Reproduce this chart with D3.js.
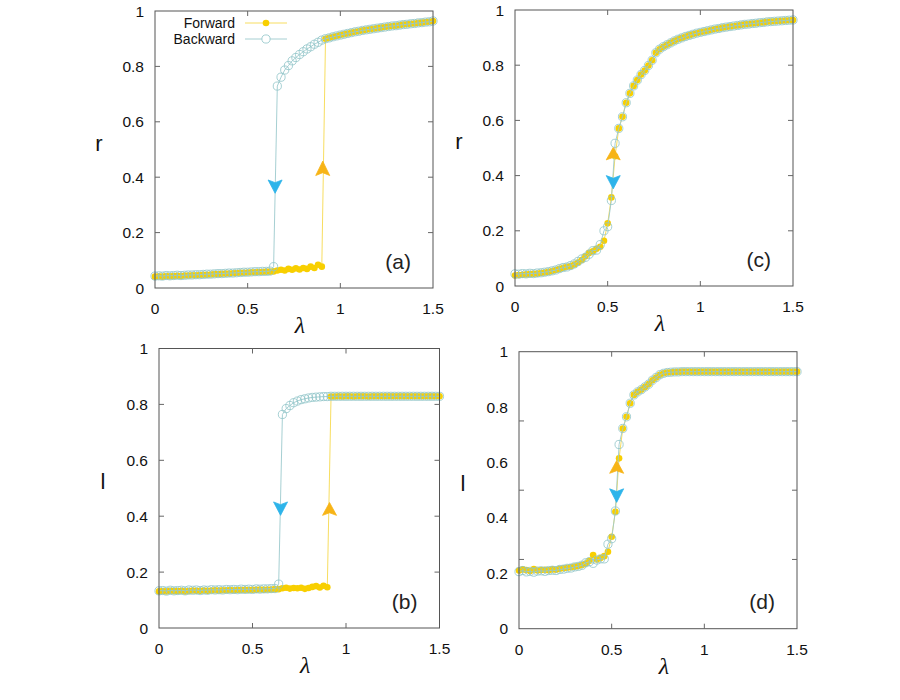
<!DOCTYPE html>
<html>
<head>
<meta charset="utf-8">
<script src="https://cdn.jsdelivr.net/npm/d3@7"></script>
<style>
html,body{margin:0;padding:0;background:#fff;}
svg{display:block;}
</style>
</head>
<body>
<svg id="chart" width="900" height="700"></svg>
<script>
// ---------------- DATA ----------------
const lambda = [0,0.02,0.04,0.06,0.08,0.10,0.12,0.14,0.16,0.18,0.20,0.22,0.24,0.26,0.28,0.30,0.32,0.34,0.36,0.38,
  0.40,0.42,0.44,0.46,0.48,0.50,0.52,0.54,0.56,0.58,0.60,0.62,0.64,0.66,0.68,0.70,0.72,0.74,0.76,0.78,
  0.80,0.82,0.84,0.86,0.88,0.90,0.92,0.94,0.96,0.98,1.00,1.02,1.04,1.06,1.08,1.10,1.12,1.14,1.16,1.18,
  1.20,1.22,1.24,1.26,1.28,1.30,1.32,1.34,1.36,1.38,1.40,1.42,1.44,1.46,1.48,1.50];

// panel (a): r, hysteresis
const rForwardA = [0.041,0.042,0.041,0.043,0.042,0.043,0.044,0.043,0.045,0.045,0.046,0.046,0.047,0.048,0.048,0.049,0.050,0.050,0.051,0.052,
  0.052,0.053,0.054,0.055,0.055,0.056,0.057,0.057,0.058,0.058,0.059,0.059,0.060,0.063,0.066,0.063,0.069,0.066,0.071,0.067,
  0.072,0.069,0.077,0.072,0.084,0.077,0.900,0.903,0.907,0.910,0.913,0.916,0.919,0.922,0.925,0.927,0.930,0.932,0.934,0.936,
  0.938,0.940,0.942,0.944,0.946,0.947,0.949,0.951,0.952,0.954,0.955,0.957,0.958,0.960,0.961,0.964];
const rBackwardA = [0.043,0.044,0.043,0.045,0.044,0.045,0.046,0.045,0.046,0.047,0.047,0.048,0.048,0.049,0.050,0.050,0.051,0.052,0.052,0.053,
  0.054,0.054,0.055,0.056,0.057,0.057,0.058,0.059,0.059,0.060,0.060,0.061,0.077,0.729,0.761,0.787,0.803,0.820,0.832,0.843,
  0.853,0.863,0.871,0.880,0.887,0.895,0.900,0.903,0.907,0.910,0.913,0.916,0.919,0.922,0.925,0.927,0.930,0.932,0.934,0.936,
  0.938,0.940,0.942,0.944,0.946,0.947,0.949,0.951,0.952,0.954,0.955,0.957,0.958,0.960,0.961,0.964];

// panel (b): l, hysteresis
const lForwardB = [0.131,0.132,0.131,0.133,0.132,0.132,0.133,0.131,0.132,0.134,0.133,0.133,0.134,0.133,0.134,0.135,0.134,0.135,0.135,0.136,
  0.135,0.136,0.136,0.137,0.136,0.137,0.137,0.138,0.137,0.138,0.138,0.139,0.139,0.142,0.144,0.141,0.143,0.142,0.144,0.140,
  0.143,0.147,0.150,0.145,0.151,0.146,0.828,0.828,0.829,0.828,0.829,0.829,0.828,0.829,0.829,0.829,0.828,0.829,0.829,0.829,
  0.829,0.829,0.829,0.829,0.829,0.829,0.829,0.829,0.829,0.829,0.829,0.829,0.829,0.829,0.829,0.829];
const lBackwardB = [0.133,0.134,0.132,0.135,0.133,0.134,0.135,0.133,0.136,0.135,0.136,0.134,0.136,0.135,0.137,0.136,0.137,0.136,0.138,0.137,
  0.138,0.137,0.139,0.138,0.139,0.138,0.140,0.139,0.140,0.140,0.141,0.141,0.157,0.764,0.785,0.796,0.806,0.812,0.817,0.820,
  0.823,0.825,0.826,0.827,0.828,0.828,0.829,0.829,0.829,0.829,0.829,0.829,0.829,0.829,0.829,0.829,0.829,0.829,0.829,0.829,
  0.829,0.829,0.829,0.829,0.829,0.829,0.829,0.829,0.829,0.829,0.829,0.829,0.829,0.829,0.829,0.829];

// panel (c): r, continuous
const rForwardC = [0.038,0.040,0.041,0.042,0.043,0.044,0.045,0.047,0.049,0.051,0.054,0.058,0.062,0.066,0.070,0.072,0.078,0.085,0.094,0.108,
  0.120,0.126,0.135,0.142,0.164,0.227,0.321,0.470,0.571,0.613,0.664,0.698,0.725,0.746,0.766,0.781,0.799,0.818,0.845,0.858,
  0.867,0.874,0.881,0.888,0.894,0.899,0.904,0.908,0.912,0.916,0.919,0.922,0.925,0.928,0.931,0.933,0.936,0.938,0.940,0.942,
  0.944,0.946,0.948,0.949,0.951,0.952,0.954,0.955,0.957,0.958,0.959,0.960,0.961,0.962,0.963,0.964];
const rBackwardC = [0.044,0.043,0.045,0.044,0.046,0.045,0.047,0.048,0.050,0.052,0.055,0.058,0.063,0.067,0.069,0.074,0.080,0.089,0.098,0.104,
  0.115,0.128,0.130,0.150,0.200,0.215,0.310,0.517,0.571,0.613,0.664,0.698,0.725,0.746,0.766,0.781,0.799,0.818,0.845,0.858,
  0.867,0.874,0.881,0.888,0.894,0.899,0.904,0.908,0.912,0.916,0.919,0.922,0.925,0.928,0.931,0.933,0.936,0.938,0.940,0.942,
  0.944,0.946,0.948,0.949,0.951,0.952,0.954,0.955,0.957,0.958,0.959,0.960,0.961,0.962,0.963,0.964];

// panel (d): l, continuous
const lForwardD = [0.210,0.214,0.212,0.208,0.215,0.210,0.212,0.213,0.211,0.214,0.213,0.216,0.218,0.220,0.222,0.224,0.226,0.230,0.235,0.245,
  0.266,0.250,0.255,0.262,0.278,0.332,0.422,0.615,0.723,0.765,0.814,0.844,0.855,0.863,0.873,0.883,0.897,0.907,0.917,0.922,
  0.925,0.926,0.927,0.927,0.928,0.928,0.928,0.928,0.928,0.928,0.928,0.928,0.928,0.928,0.928,0.928,0.928,0.928,0.928,0.928,
  0.928,0.928,0.928,0.928,0.928,0.928,0.928,0.928,0.928,0.928,0.928,0.928,0.928,0.928,0.928,0.928];
const lBackwardD = [0.206,0.210,0.205,0.207,0.204,0.208,0.209,0.207,0.210,0.211,0.210,0.214,0.215,0.218,0.219,0.223,0.225,0.229,0.238,0.242,
  0.236,0.248,0.252,0.252,0.305,0.325,0.425,0.665,0.723,0.765,0.814,0.844,0.855,0.863,0.873,0.883,0.897,0.907,0.917,0.922,
  0.925,0.926,0.927,0.927,0.928,0.928,0.928,0.928,0.928,0.928,0.928,0.928,0.928,0.928,0.928,0.928,0.928,0.928,0.928,0.928,
  0.928,0.928,0.928,0.928,0.928,0.928,0.928,0.928,0.928,0.928,0.928,0.928,0.928,0.928,0.928,0.928];

// tick values / labels
const xTicks = [0, 0.5, 1, 1.5];
const xTickLabels = ["0", "0.5", "1", "1.5"];
const yTicks = [0, 0.2, 0.4, 0.6, 0.8, 1];
const yTickLabels = ["0", "0.2", "0.4", "0.6", "0.8", "1"];
const yTickMarksD = [0, 0.25, 0.5, 0.75, 1];   // tick marks in panel (d) differ from its labels
const seriesNames = ["Forward", "Backward"];
const panelNames = ["(a)", "(b)", "(c)", "(d)"];
const yAxisNames = ["r", "l", "r", "l"];

// arrows: [lambda, tail value, tip value]
const arrowsA = {up: [0.905, 0.406, 0.458], down: [0.648, 0.390, 0.342]};
const arrowsB = {up: [0.912, 0.403, 0.449], down: [0.650, 0.451, 0.403]};
const arrowsC = {up: [0.530, 0.457, 0.502], down: [0.530, 0.400, 0.352]};
const arrowsD = {up: [0.527, 0.561, 0.607], down: [0.527, 0.505, 0.456]};

// ---------------- STYLE ----------------
const COL_FWD = "#f8cf00";
const COL_FWD_LINE = "#f6d94e";
const COL_BWD = "#8fc4c8";
const COL_BWD_LINE = "#9cc9cd";
const COL_UP = "#f7b416";
const COL_DOWN = "#2db4ea";
const FONT = "'Liberation Sans', Arial, Helvetica, sans-serif";

const svg = d3.select("#chart");

const panels = [
  {name: panelNames[0], yName: yAxisNames[0], fwd: rForwardA, bwd: rBackwardA, arrows: arrowsA,
   box: {x0: 155, x1: 433, y0: 11, y1: 288}, tickMarks: yTicks, legend: true},
  {name: panelNames[1], yName: yAxisNames[1], fwd: lForwardB, bwd: lBackwardB, arrows: arrowsB,
   box: {x0: 159, x1: 439.5, y0: 348.5, y1: 628}, tickMarks: yTicks, legend: false},
  {name: panelNames[2], yName: yAxisNames[2], fwd: rForwardC, bwd: rBackwardC, arrows: arrowsC,
   box: {x0: 515, x1: 793, y0: 10, y1: 286}, tickMarks: yTicks, legend: false},
  {name: panelNames[3], yName: yAxisNames[3], fwd: lForwardD, bwd: lBackwardD, arrows: arrowsD,
   box: {x0: 519, x1: 797, y0: 351.7, y1: 628.7}, tickMarks: yTickMarksD, legend: false}
];

function arrowHead(g, cx, tailY, tipY, color) {
  // notched filled arrowhead, pointing from tail to tip
  const dir = tipY < tailY ? -1 : 1;
  const len = Math.abs(tipY - tailY);
  const w = 7;
  const pts = [
    [cx, tipY],
    [cx - w, tipY - dir * len],
    [cx, tipY - dir * len * 0.8],
    [cx + w, tipY - dir * len]
  ];
  g.append("path")
    .attr("d", "M" + pts.map(p => p.join(",")).join("L") + "Z")
    .attr("fill", color)
    .attr("stroke", color)
    .attr("stroke-width", 0.8)
    .attr("stroke-linejoin", "round");
}

panels.forEach(p => {
  const b = p.box;
  const x = d3.scaleLinear().domain([0, 1.5]).range([b.x0, b.x1]);
  const y = d3.scaleLinear().domain([0, 1]).range([b.y1, b.y0]);
  const g = svg.append("g");

  const fwd = lambda.map((l, i) => [l, p.fwd[i]]);
  const bwd = lambda.map((l, i) => [l, p.bwd[i]]);
  const line = d3.line().x(d => x(d[0])).y(d => y(d[1]));

  const plot = g.append("g");

  // forward series
  plot.append("path").datum(fwd).attr("d", line)
    .attr("fill", "none").attr("stroke", COL_FWD_LINE).attr("stroke-width", 0.9);
  plot.selectAll("circle.f").data(fwd).enter().append("circle").attr("class", "f")
    .attr("cx", d => x(d[0])).attr("cy", d => y(d[1])).attr("r", 3.3)
    .attr("fill", COL_FWD);

  // backward series
  plot.append("path").datum(bwd).attr("d", line)
    .attr("fill", "none").attr("stroke", COL_BWD_LINE).attr("stroke-width", 0.9);
  plot.selectAll("circle.b").data(bwd).enter().append("circle").attr("class", "b")
    .attr("cx", d => x(d[0])).attr("cy", d => y(d[1])).attr("r", 4.1)
    .attr("fill", "none").attr("stroke", COL_BWD).attr("stroke-width", 0.8);

  // arrows
  arrowHead(g, x(p.arrows.up[0]), y(p.arrows.up[1]), y(p.arrows.up[2]), COL_UP);
  arrowHead(g, x(p.arrows.down[0]), y(p.arrows.down[1]), y(p.arrows.down[2]), COL_DOWN);

  // frame
  g.append("rect").attr("x", b.x0).attr("y", b.y0)
    .attr("width", b.x1 - b.x0).attr("height", b.y1 - b.y0)
    .attr("fill", "none").attr("stroke", "#555").attr("stroke-width", 1);

  // inward ticks on all four sides
  const tl = 5;
  xTicks.forEach(t => {
    if (t === 0 || t === 1.5) return;
    g.append("line").attr("x1", x(t)).attr("x2", x(t)).attr("y1", b.y1).attr("y2", b.y1 - tl)
      .attr("stroke", "#666").attr("stroke-width", 1);
    g.append("line").attr("x1", x(t)).attr("x2", x(t)).attr("y1", b.y0).attr("y2", b.y0 + tl)
      .attr("stroke", "#666").attr("stroke-width", 1);
  });
  p.tickMarks.forEach(t => {
    if (t === 0 || t === 1) return;
    g.append("line").attr("x1", b.x0).attr("x2", b.x0 + tl).attr("y1", y(t)).attr("y2", y(t))
      .attr("stroke", "#666").attr("stroke-width", 1);
    g.append("line").attr("x1", b.x1).attr("x2", b.x1 - tl).attr("y1", y(t)).attr("y2", y(t))
      .attr("stroke", "#666").attr("stroke-width", 1);
  });

  // tick labels
  xTicks.forEach((t, i) => {
    g.append("text").attr("x", x(t)).attr("y", b.y1 + 26)
      .attr("text-anchor", "middle").attr("font-family", FONT).attr("font-size", 15.5)
      .attr("fill", "#111").text(xTickLabels[i]);
  });
  yTicks.forEach((t, i) => {
    g.append("text").attr("x", b.x0 - 11).attr("y", y(t) + 5.5)
      .attr("text-anchor", "end").attr("font-family", FONT).attr("font-size", 15.5)
      .attr("fill", "#111").text(yTickLabels[i]);
  });

  // axis titles
  g.append("text").attr("x", (b.x0 + b.x1) / 2 + 6).attr("y", b.y1 + 45)
    .attr("text-anchor", "middle").attr("font-family", "'Liberation Serif', 'Times New Roman', serif")
    .attr("font-style", "italic").attr("font-size", 24).attr("fill", "#111").text("λ");
  g.append("text").attr("x", b.x0 - 56).attr("y", (b.y0 + b.y1) / 2 + 1)
    .attr("text-anchor", "middle").attr("font-family", FONT).attr("font-size", 22)
    .attr("fill", "#111").text(p.yName);

  // panel label
  g.append("text").attr("x", b.x1 - 22).attr("y", b.y1 - 19.5)
    .attr("text-anchor", "end").attr("font-family", FONT).attr("font-size", 21)
    .attr("fill", "#222").text(p.name);

  // legend
  if (p.legend) {
    const lx0 = 245, lx1 = 287, lxm = 266;
    const rows = [
      {label: seriesNames[0], yy: 23, type: "f"},
      {label: seriesNames[1], yy: 39, type: "b"}
    ];
    rows.forEach(r => {
      g.append("text").attr("x", 235).attr("y", r.yy + 5)
        .attr("text-anchor", "end").attr("font-family", FONT).attr("font-size", 14)
        .attr("fill", "#111").text(r.label);
      g.append("line").attr("x1", lx0).attr("x2", lx1).attr("y1", r.yy).attr("y2", r.yy)
        .attr("stroke", r.type === "f" ? COL_FWD_LINE : COL_BWD_LINE).attr("stroke-width", 0.9);
      if (r.type === "f") {
        g.append("circle").attr("cx", lxm).attr("cy", r.yy).attr("r", 3.3).attr("fill", COL_FWD);
      } else {
        g.append("circle").attr("cx", lxm).attr("cy", r.yy).attr("r", 4.1)
          .attr("fill", "#fff").attr("stroke", COL_BWD).attr("stroke-width", 0.8);
      }
    });
  }
});
</script>
</body>
</html>
